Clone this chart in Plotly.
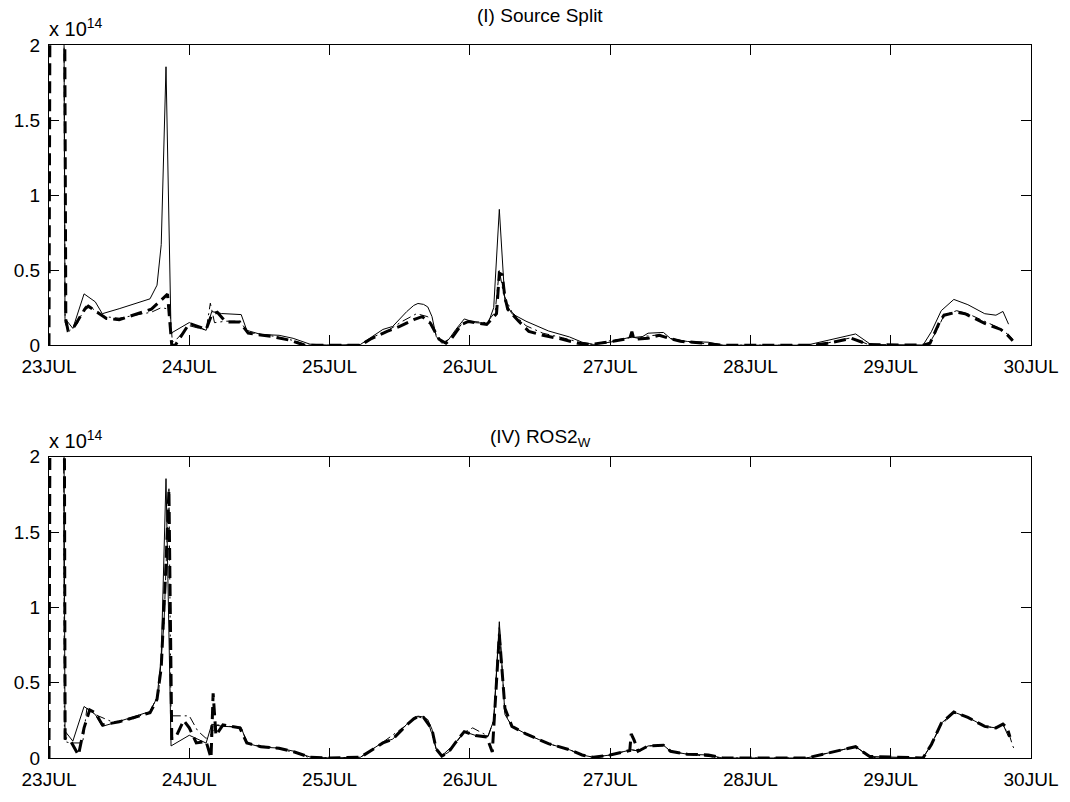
import plotly.graph_objects as go

# ---------------- data (values in units of 1e14) ----------------
day_ticks = [23, 24, 25, 26, 27, 28, 29, 30]
day_labels = ["23JUL", "24JUL", "25JUL", "26JUL", "27JUL", "28JUL", "29JUL", "30JUL"]
y_ticks = [0, 0.5, 1, 1.5, 2]
y_labels = ["0", "0.5", "1", "1.5", "2"]
titles = ["(I) Source Split", "(IV) ROS2<sub>W</sub>"]

# observed (solid, same in both panels)
obs_t = [23.0, 23.1, 23.114, 23.17, 23.25, 23.33, 23.38, 23.5, 23.72, 23.77, 23.80, 23.834, 23.87,
         24.0, 24.12, 24.16, 24.23, 24.37, 24.41, 24.51, 24.64, 24.74, 24.86, 25.0, 25.22, 25.38,
         25.45, 25.55, 25.60, 25.63, 25.67, 25.70, 25.73, 25.76, 25.80, 25.85, 25.90, 25.96, 26.04,
         26.13, 26.17, 26.21, 26.25, 26.30, 26.40, 26.56, 26.71, 26.80, 26.88, 27.0, 27.15, 27.21,
         27.27, 27.38, 27.43, 27.55, 27.7, 27.8, 28.4, 28.55, 28.75, 28.85, 28.9, 29.23, 29.29,
         29.36, 29.45, 29.55, 29.67, 29.75, 29.8, 29.84]
obs_v = [4.0, 4.0, 0.178, 0.112, 0.342, 0.289, 0.21, 0.243, 0.309, 0.40, 0.67, 1.855, 0.08,
         0.151, 0.099, 0.224, 0.211, 0.204, 0.099, 0.072, 0.066, 0.046, 0.007, 0.0, 0.005, 0.105,
         0.125, 0.224, 0.265, 0.278, 0.272, 0.255, 0.191, 0.059, 0.013, 0.039, 0.105, 0.175, 0.15,
         0.145, 0.25, 0.905, 0.29, 0.21, 0.16, 0.095, 0.055, 0.02, 0.005, 0.02, 0.055, 0.045,
         0.08, 0.085, 0.045, 0.025, 0.02, 0.0, 0.0, 0.03, 0.075, 0.01, 0.0, 0.0, 0.09,
         0.23, 0.305, 0.27, 0.21, 0.2, 0.225, 0.14]

# panel I, thick dashed
p1_dash_t = [23.0, 23.012, 23.105, 23.12, 23.135, 23.18, 23.255, 23.28, 23.41, 23.5, 23.73, 23.79,
             23.845, 23.875, 23.9, 24.0, 24.12, 24.16, 24.2, 24.26, 24.36, 24.42, 24.58, 24.72,
             24.82, 25.22, 25.29, 25.41, 25.5, 25.6, 25.66, 25.72, 25.78, 25.83, 25.87, 25.94,
             25.99, 26.12, 26.19, 26.21, 26.23, 26.25, 26.27, 26.35, 26.42, 26.52, 26.66, 26.77,
             26.86, 27.02, 27.14, 27.155, 27.17, 27.27, 27.35, 27.42, 27.5, 27.65, 27.8, 28.45,
             28.55, 28.72, 28.84, 29.23, 29.28, 29.35, 29.38, 29.47, 29.53, 29.67, 29.785,
             29.83, 29.87]
p1_dash_v = [0.0, 4.0, 4.0, 0.17, 0.1, 0.125, 0.24, 0.26, 0.178, 0.17, 0.24, 0.29,
             0.34, 0.0, 0.0, 0.145, 0.105, 0.204, 0.22, 0.155, 0.155, 0.08, 0.059, 0.033,
             0.0, 0.0, 0.04, 0.092, 0.125, 0.17, 0.19, 0.145, 0.04, 0.013, 0.046, 0.138,
             0.158, 0.138, 0.21, 0.48, 0.47, 0.32, 0.24, 0.158, 0.092, 0.066, 0.04, 0.013,
             0.005, 0.026, 0.046, 0.09, 0.04, 0.046, 0.066, 0.046, 0.026, 0.015, 0.0, 0.0,
             0.013, 0.046, 0.005, 0.0, 0.013, 0.158, 0.2, 0.22, 0.21, 0.145, 0.105,
             0.07, 0.03]

# panel I, thin dash-dot
p1_dd_t = [23.0, 23.1, 23.115, 23.14, 23.2, 23.26, 23.3, 23.4, 23.5, 23.73, 23.8, 23.86, 23.88,
           23.9, 24.0, 24.12, 24.15, 24.18, 24.26, 24.36, 24.42, 24.6, 24.75, 24.85, 25.22, 25.3,
           25.42, 25.52, 25.62, 25.7, 25.76, 25.82, 25.88, 25.95, 26.0, 26.12, 26.18, 26.21,
           26.24, 26.3, 26.4, 26.52, 26.66, 26.8, 26.88, 27.0, 27.15, 27.27, 27.36, 27.44, 27.55,
           27.8, 28.45, 28.55, 28.72, 28.84, 29.23, 29.28, 29.33, 29.38, 29.47, 29.55, 29.67,
           29.785, 29.85, 29.87]
p1_dd_v = [4.0, 4.0, 0.15, 0.09, 0.14, 0.26, 0.25, 0.19, 0.18, 0.22, 0.25, 0.24, 0.02,
           0.03, 0.13, 0.1, 0.28, 0.15, 0.16, 0.16, 0.085, 0.06, 0.03, 0.0, 0.0, 0.05,
           0.1, 0.16, 0.21, 0.19, 0.07, 0.01, 0.07, 0.15, 0.16, 0.15, 0.22, 0.5,
           0.34, 0.22, 0.13, 0.08, 0.05, 0.015, 0.005, 0.03, 0.05, 0.06, 0.07, 0.04, 0.02,
           0.0, 0.0, 0.015, 0.05, 0.005, 0.0, 0.02, 0.1, 0.2, 0.23, 0.21, 0.16,
           0.11, 0.06, 0.04]

# panel IV, thick dashed
p4_dash_t = [23.0, 23.012, 23.105, 23.115, 23.15, 23.21, 23.25, 23.29, 23.33, 23.38, 23.5, 23.72,
             23.77, 23.80, 23.83, 23.855, 23.875, 23.9, 23.96, 24.0, 24.05, 24.12, 24.155, 24.17,
             24.19, 24.24, 24.36, 24.41, 24.51, 24.64, 24.75, 24.86, 25.0, 25.22, 25.38, 25.45,
             25.55, 25.6, 25.63, 25.67, 25.73, 25.76, 25.80, 25.85, 25.90, 25.96, 26.04, 26.12,
             26.16, 26.21, 26.25, 26.30, 26.40, 26.56, 26.71, 26.80, 26.88, 27.0, 27.14, 27.15,
             27.17, 27.2, 27.27, 27.38, 27.43, 27.55, 27.7, 27.8, 28.4, 28.55, 28.75, 28.85,
             29.23, 29.29, 29.36, 29.45, 29.55, 29.67, 29.75, 29.8, 29.83, 29.85]
p4_dash_v = [0.0, 4.0, 4.0, 0.13, 0.12, 0.02, 0.2, 0.32, 0.3, 0.22, 0.24, 0.3,
             0.39, 0.6, 1.2, 1.78, 0.13, 0.13, 0.25, 0.2, 0.1, 0.11, 0.0, 0.43,
             0.15, 0.22, 0.2, 0.1, 0.075, 0.065, 0.04, 0.005, 0.0, 0.005, 0.1, 0.125,
             0.22, 0.26, 0.275, 0.27, 0.19, 0.06, 0.013, 0.04, 0.105, 0.175, 0.15, 0.14,
             0.04, 0.82, 0.33, 0.21, 0.16, 0.095, 0.055, 0.02, 0.005, 0.02, 0.05, 0.16,
             0.12, 0.045, 0.08, 0.085, 0.045, 0.025, 0.02, 0.0, 0.0, 0.03, 0.075, 0.01,
             0.0, 0.09, 0.23, 0.305, 0.27, 0.21, 0.2, 0.225, 0.2, 0.14]

# panel IV, thin dash-dot
p4_dd_t = [23.0, 23.1, 23.11, 23.15, 23.24, 23.27, 23.35, 23.45, 23.6, 23.72, 23.78, 23.82,
           23.855, 23.87, 24.0, 24.06, 24.12, 24.16, 24.2, 24.37, 24.42, 24.6, 24.78, 24.86,
           25.22, 25.38, 25.55, 25.63, 25.7, 25.76, 25.8, 25.9, 25.96, 26.02, 26.13, 26.17,
           26.21, 26.25, 26.3, 26.4, 26.56, 26.71, 26.8, 26.88, 27.0, 27.15, 27.21, 27.27,
           27.38, 27.43, 27.55, 27.8, 28.4, 28.55, 28.75, 28.85, 29.23, 29.29, 29.36, 29.45,
           29.55, 29.67, 29.75, 29.8, 29.85, 29.87, 29.88]
p4_dd_v = [4.0, 4.0, 0.11, 0.1, 0.1, 0.33, 0.28, 0.24, 0.26, 0.31, 0.42, 0.9,
           1.8, 0.28, 0.28, 0.18, 0.13, 0.16, 0.22, 0.2, 0.09, 0.07, 0.03, 0.0,
           0.005, 0.105, 0.22, 0.275, 0.25, 0.06, 0.015, 0.1, 0.17, 0.2, 0.145, 0.25,
           0.88, 0.3, 0.21, 0.16, 0.095, 0.055, 0.02, 0.005, 0.02, 0.055, 0.045, 0.08,
           0.085, 0.045, 0.025, 0.0, 0.0, 0.03, 0.075, 0.01, 0.0, 0.09, 0.22, 0.3,
           0.27, 0.21, 0.2, 0.22, 0.14, 0.08, 0.06]

# ---------------- figure ----------------
W, H = 1070, 802
ML, MR, MT, MB = 49, 37, 45, 35
top_plot = (MT, 349)
bot_plot = (462, H - MB)
ph = H - MT - MB
dom_top = [(H - MB - top_plot[1]) / ph, 1.0]
dom_bot = [0.0, (H - MB - bot_plot[0]) / ph]

FONT = "Liberation Sans, Arial, Helvetica, sans-serif"
FS = 19
fig = go.Figure()

panels = [
    ("x", "y", p1_dash_t, p1_dash_v, p1_dd_t, p1_dd_v),
    ("x2", "y2", p4_dash_t, p4_dash_v, p4_dd_t, p4_dd_v),
]
for xa, ya, dt, dv, ct, cv in panels:
    fig.add_trace(go.Scatter(x=obs_t, y=obs_v, mode="lines", xaxis=xa, yaxis=ya,
                             line=dict(color="black", width=1), showlegend=False))
    fig.add_trace(go.Scatter(x=dt, y=dv, mode="lines", xaxis=xa, yaxis=ya,
                             line=dict(color="black", width=3, dash="12px,6px"), showlegend=False))
    fig.add_trace(go.Scatter(x=ct, y=cv, mode="lines", xaxis=xa, yaxis=ya,
                             line=dict(color="black", width=1, dash="9px,4px,2px,4px"), showlegend=False))

axis_common = dict(showgrid=False, zeroline=False, showline=True, linecolor="black", linewidth=1,
                   mirror="ticks", ticks="inside", ticklen=10, tickwidth=1, tickcolor="black",
                   tickfont=dict(family=FONT, size=FS, color="black"))
xax = dict(range=[23, 30], domain=[0, 1], tickvals=day_ticks, ticktext=day_labels,
           ticklabelstandoff=4, **axis_common)
yax = dict(range=[0, 2], tickvals=y_ticks, ticktext=y_labels, ticklabelstandoff=4, **axis_common)

fig.update_layout(
    width=W, height=H, margin=dict(l=ML, r=MR, t=MT, b=MB, pad=0),
    paper_bgcolor="white", plot_bgcolor="white",
    font=dict(family=FONT, size=FS, color="black"),
    xaxis=dict(anchor="y", **xax),
    yaxis=dict(domain=dom_top, anchor="x", **yax),
    xaxis2=dict(anchor="y2", **xax),
    yaxis2=dict(domain=dom_bot, anchor="x2", **yax),
)

for dom, title, tshift in [(dom_top, titles[0], 17), (dom_bot, titles[1], 5)]:
    fig.add_annotation(xref="paper", yref="paper", x=0.5, y=dom[1], xanchor="center", yanchor="bottom",
                       yshift=tshift, showarrow=False, text=title,
                       font=dict(family=FONT, size=FS, color="black"))
    fig.add_annotation(xref="paper", yref="paper", x=0, y=dom[1], xanchor="left", yanchor="bottom",
                       yshift=3, xshift=-2, showarrow=False, text="x 10<sup>14</sup>",
                       font=dict(family=FONT, size=20, color="black"))

fig.write_html("out.html")
